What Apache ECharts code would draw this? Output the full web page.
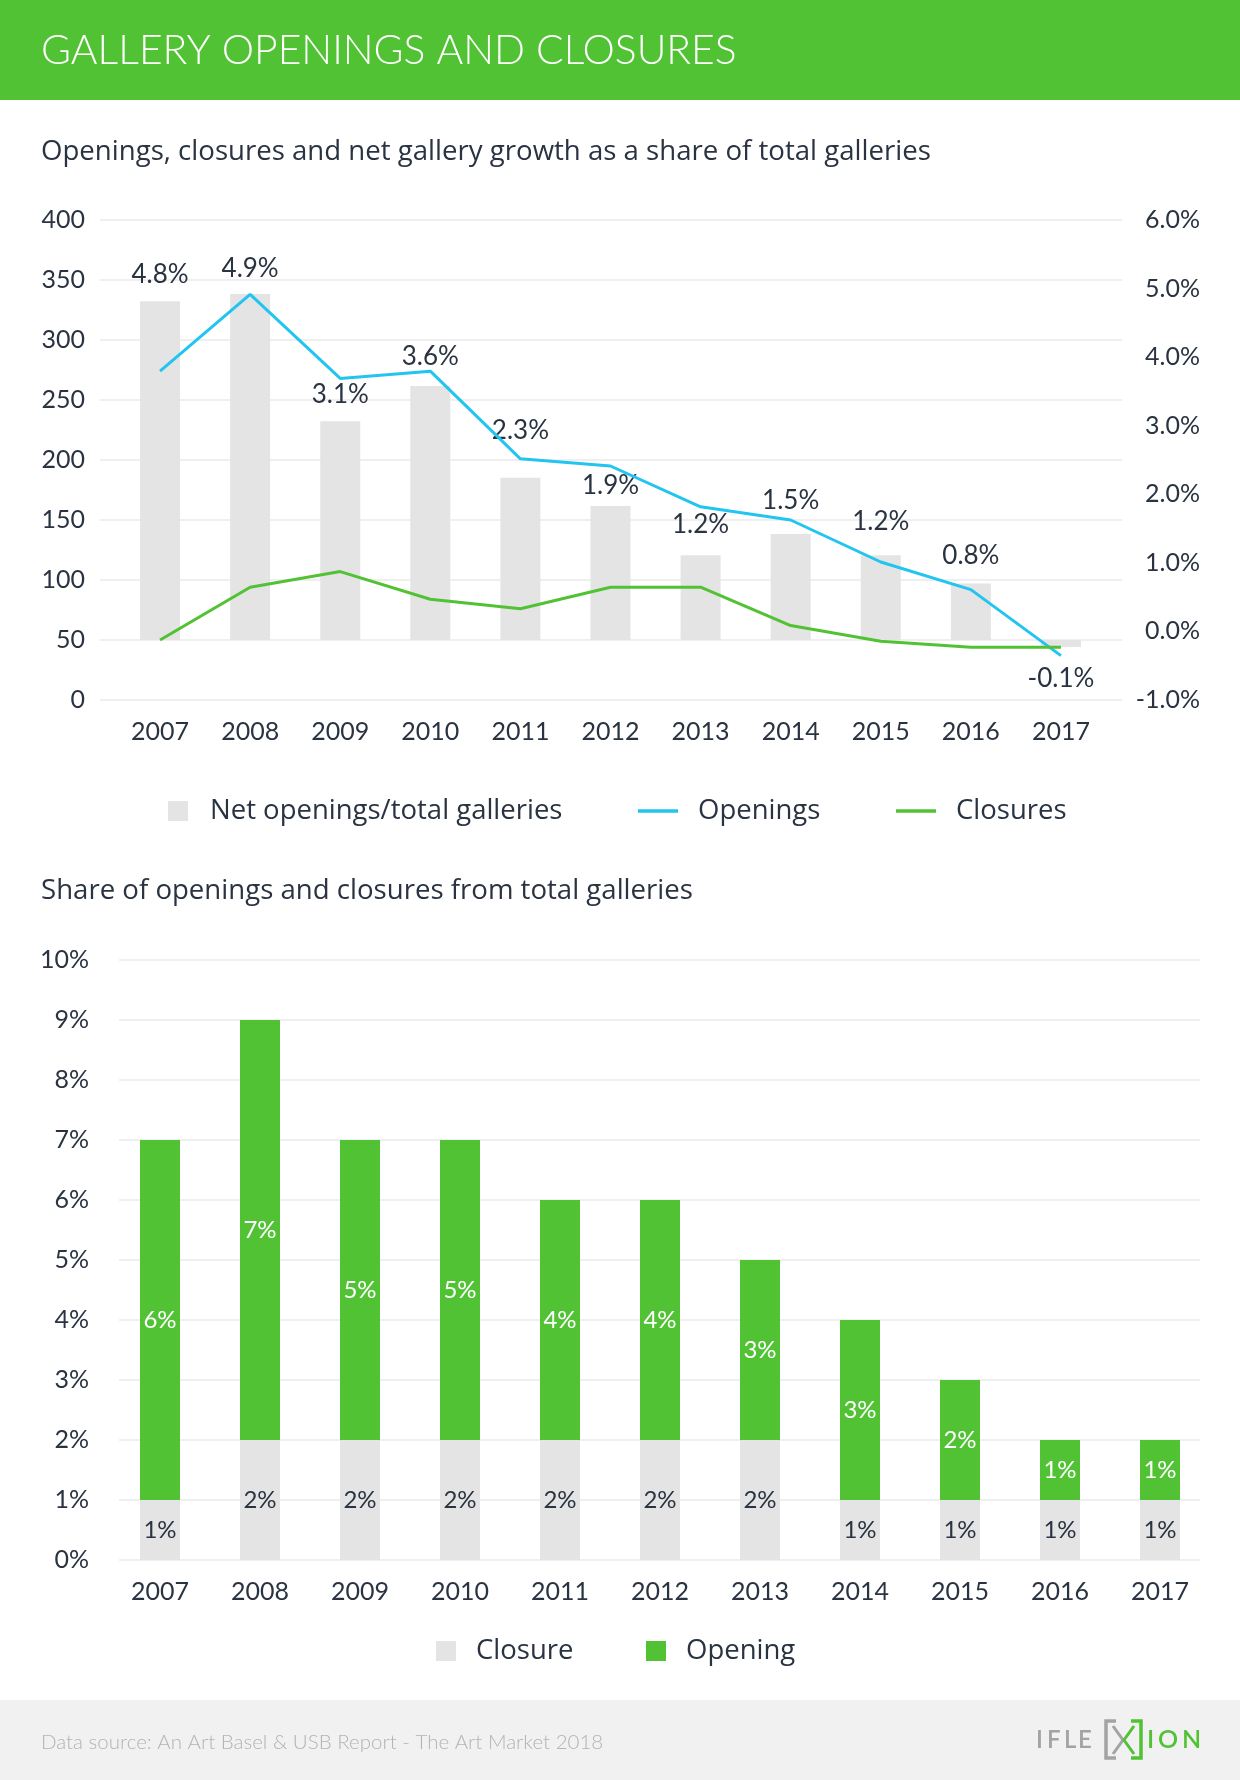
<!DOCTYPE html>
<html>
<head>
<meta charset="utf-8">
<script src="https://cdn.jsdelivr.net/npm/echarts@6/dist/echarts.min.js"></script>
<style>
html,body{margin:0;padding:0;background:#fff;}
#chart{width:1240px;height:1780px;}
</style>
</head>
<body>
<div id="chart"></div>
<script>
// ---------- data ----------
const years = ['2007','2008','2009','2010','2011','2012','2013','2014','2015','2016','2017'];
const netSharePct = [4.8, 4.9, 3.1, 3.6, 2.3, 1.9, 1.2, 1.5, 1.2, 0.8, -0.1];
const openingsCount = [274, 338, 268, 274, 201, 195, 161, 150, 115, 92, 37];
const closuresCount = [50, 94, 107, 84, 76, 94, 94, 62, 49, 44, 44];
const closureSharePct = [1, 2, 2, 2, 2, 2, 2, 1, 1, 1, 1];
const openingSharePct = [6, 7, 5, 5, 4, 4, 3, 3, 2, 1, 1];
const countTicks = [0, 50, 100, 150, 200, 250, 300, 350, 400];
const rightPctTicks = [-1, 0, 1, 2, 3, 4, 5, 6];
const shareTicks = [0, 1, 2, 3, 4, 5, 6, 7, 8, 9, 10];

// ---------- style ----------
const FONT = 'Lato';
const TFONT = '"Open Sans"';
const TXT = '#2a3341';
const GREEN = '#52c235';
const CYAN = '#22c4f0';
const GRAY = '#e4e4e4';
const GRID = '#efefef';
const LINE_ICON = 'path://M0,0H40V3.5H0Z';

const chart = echarts.init(document.getElementById('chart'), null, {renderer: 'canvas'});

const netLabelGap = [14, 13, 14, 16, 34, 7, 18, 21, 21, 15, 19];
const netData = netSharePct.map((v, i) => ({
  value: v,
  label: v < 0 ? {position: 'bottom', distance: netLabelGap[i]} : {position: 'top', distance: netLabelGap[i]}
}));

const hiddenX = (gi) => ({type: 'value', gridIndex: gi, show: false, min: 0, max: 1});
const legendText = (pad) => ({color: TXT, fontSize: 27.5, fontFamily: TFONT, padding: [0, 0, 0, pad]});

const option = {
  backgroundColor: '#ffffff',
  animation: false,
  textStyle: {fontFamily: FONT},
  grid: [
    {left: 100, right: 118, top: 220, height: 480},   // 0 top: gridlines & labels
    {left: 115, right: 134, top: 220, height: 480},   // 1 top: data
    {left: 119, right: 40, top: 960, height: 600},    // 2 bottom: gridlines & labels
    {left: 110, right: 30, top: 960, height: 600}     // 3 bottom: data
  ],
  xAxis: [
    hiddenX(0),
    {type: 'category', gridIndex: 1, data: years, boundaryGap: true,
      axisLine: {show: false}, axisTick: {show: false},
      axisLabel: {color: TXT, fontSize: 25, margin: 19, fontFamily: FONT}},
    hiddenX(2),
    {type: 'category', gridIndex: 3, data: years, boundaryGap: true,
      axisLine: {show: false}, axisTick: {show: false},
      axisLabel: {color: TXT, fontSize: 25, margin: 19, fontFamily: FONT}}
  ],
  yAxis: [
    {type: 'value', gridIndex: 0, position: 'left',
      min: countTicks[0], max: countTicks[countTicks.length - 1], interval: countTicks[1] - countTicks[0],
      axisLine: {show: false}, axisTick: {show: false},
      axisLabel: {color: TXT, fontSize: 25, margin: 15, fontFamily: FONT},
      splitLine: {show: true, lineStyle: {color: GRID, width: 2}}},
    {type: 'value', gridIndex: 0, position: 'right',
      min: rightPctTicks[0], max: rightPctTicks[rightPctTicks.length - 1], interval: rightPctTicks[1] - rightPctTicks[0],
      axisLine: {show: false}, axisTick: {show: false},
      axisLabel: {color: TXT, fontSize: 25, margin: 78, align: 'right', fontFamily: FONT,
        formatter: v => v.toFixed(1) + '%'},
      splitLine: {show: false}},
    {type: 'value', gridIndex: 1, show: false,
      min: countTicks[0], max: countTicks[countTicks.length - 1], splitLine: {show: false}},
    {type: 'value', gridIndex: 1, show: false, min: -0.85, max: 5.95, splitLine: {show: false}},
    {type: 'value', gridIndex: 2,
      min: shareTicks[0], max: shareTicks[shareTicks.length - 1], interval: shareTicks[1] - shareTicks[0],
      axisLine: {show: false}, axisTick: {show: false},
      axisLabel: {color: TXT, fontSize: 25, margin: 30, fontFamily: FONT, formatter: v => v + '%'},
      splitLine: {show: true, lineStyle: {color: GRID, width: 2}}},
    {type: 'value', gridIndex: 3, show: false,
      min: shareTicks[0], max: shareTicks[shareTicks.length - 1], splitLine: {show: false}}
  ],
  legend: [
    {data: [{name: 'Net openings/total galleries', icon: 'rect'}], left: 168, top: 797, padding: 0,
      itemWidth: 20, itemHeight: 20, selectedMode: false, textStyle: legendText(17)},
    {data: [{name: 'Openings', icon: LINE_ICON}], left: 638, top: 797, padding: 0,
      itemWidth: 40, itemHeight: 20, selectedMode: false, textStyle: legendText(15)},
    {data: [{name: 'Closures', icon: LINE_ICON}], left: 896, top: 797, padding: 0,
      itemWidth: 40, itemHeight: 20, selectedMode: false, textStyle: legendText(15)},
    {data: [{name: 'Closure', icon: 'rect'}], left: 436, top: 1637, padding: 0,
      itemWidth: 20, itemHeight: 20, selectedMode: false, textStyle: legendText(15)},
    {data: [{name: 'Opening', icon: 'rect'}], left: 646, top: 1637, padding: 0,
      itemWidth: 20, itemHeight: 20, selectedMode: false, textStyle: legendText(15)}
  ],
  series: [
    {name: 'Net openings/total galleries', type: 'bar', xAxisIndex: 1, yAxisIndex: 3,
      data: netData, barWidth: 40, itemStyle: {color: GRAY},
      label: {show: true, color: TXT, fontSize: 26, fontFamily: FONT,
        formatter: p => p.value.toFixed(1) + '%'}, z: 2},
    {name: 'Openings', type: 'line', xAxisIndex: 1, yAxisIndex: 2, data: openingsCount,
      symbol: 'none', lineStyle: {color: CYAN, width: 3}, itemStyle: {color: CYAN}, z: 3},
    {name: 'Closures', type: 'line', xAxisIndex: 1, yAxisIndex: 2, data: closuresCount,
      symbol: 'none', lineStyle: {color: GREEN, width: 3}, itemStyle: {color: GREEN}, z: 3},
    {name: 'Closure', type: 'bar', stack: 'share', xAxisIndex: 3, yAxisIndex: 5, data: closureSharePct,
      barWidth: 40, itemStyle: {color: GRAY},
      label: {show: true, position: 'inside', color: TXT, fontSize: 24, fontFamily: FONT, formatter: p => p.value + '%'}},
    {name: 'Opening', type: 'bar', stack: 'share', xAxisIndex: 3, yAxisIndex: 5, data: openingSharePct,
      barWidth: 40, itemStyle: {color: GREEN},
      label: {show: true, position: 'inside', color: '#ffffff', fontSize: 24, fontFamily: FONT, formatter: p => p.value + '%'}}
  ],
  graphic: [
    {type: 'rect', shape: {x: 0, y: 0, width: 1240, height: 100}, style: {fill: GREEN}, silent: true, z: -1},
    {type: 'text', style: {x: 41, y: 51, text: 'GALLERY OPENINGS AND CLOSURES', fill: '#ffffff',
      font: '300 40.8px Lato', verticalAlign: 'middle', textVerticalAlign: 'middle'}},
    {type: 'text', style: {x: 41, y: 152, text: 'Openings, closures and net gallery growth as a share of total galleries',
      fill: TXT, font: '400 27.6px "Open Sans"', verticalAlign: 'middle', textVerticalAlign: 'middle'}},
    {type: 'text', style: {x: 41, y: 891, text: 'Share of openings and closures from total galleries',
      fill: TXT, font: '400 27.6px "Open Sans"', verticalAlign: 'middle', textVerticalAlign: 'middle'}},
    {type: 'rect', shape: {x: 0, y: 1700, width: 1240, height: 80}, style: {fill: '#f1f1f1'}, silent: true, z: -1},
    {type: 'text', style: {x: 41, y: 1742, text: 'Data source: An Art Basel & USB Report - The Art Market 2018',
      fill: '#b3b3b3', font: '300 20.5px Lato', verticalAlign: 'middle', textVerticalAlign: 'middle'}},
    // logo
    {type: 'text', style: {x: 1036, y: 1740, text: 'I', fill: '#a3a3a3', font: '600 24px Lato', verticalAlign: 'middle'}},
    {type: 'text', style: {x: 1047, y: 1740, text: 'F', fill: '#a3a3a3', font: '600 24px Lato', verticalAlign: 'middle'}},
    {type: 'text', style: {x: 1064, y: 1740, text: 'L', fill: '#a3a3a3', font: '600 24px Lato', verticalAlign: 'middle'}},
    {type: 'text', style: {x: 1078, y: 1740, text: 'E', fill: '#a3a3a3', font: '600 24px Lato', verticalAlign: 'middle'}},
    {type: 'polyline', shape: {points: [[1116, 1721], [1106, 1721], [1106, 1758], [1116, 1758]]},
      style: {stroke: '#a3a3a3', lineWidth: 3.5, fill: null}},
    {type: 'polyline', shape: {points: [[1131, 1721], [1141, 1721], [1141, 1758], [1131, 1758]]},
      style: {stroke: GREEN, lineWidth: 3.5, fill: null}},
    {type: 'polyline', shape: {points: [[1113, 1726], [1123, 1740], [1113, 1754]]},
      style: {stroke: '#a3a3a3', lineWidth: 3, fill: null}},
    {type: 'polyline', shape: {points: [[1134, 1726], [1124, 1740], [1134, 1754]]},
      style: {stroke: GREEN, lineWidth: 3, fill: null}},
    {type: 'text', style: {x: 1147, y: 1740, text: 'I', fill: GREEN, font: '600 25px Lato', verticalAlign: 'middle'}},
    {type: 'text', style: {x: 1158, y: 1740, text: 'O', fill: GREEN, font: '600 25px Lato', verticalAlign: 'middle'}},
    {type: 'text', style: {x: 1182, y: 1740, text: 'N', fill: GREEN, font: '600 25px Lato', verticalAlign: 'middle'}}
  ]
};

chart.setOption(option);
</script>
</body>
</html>
